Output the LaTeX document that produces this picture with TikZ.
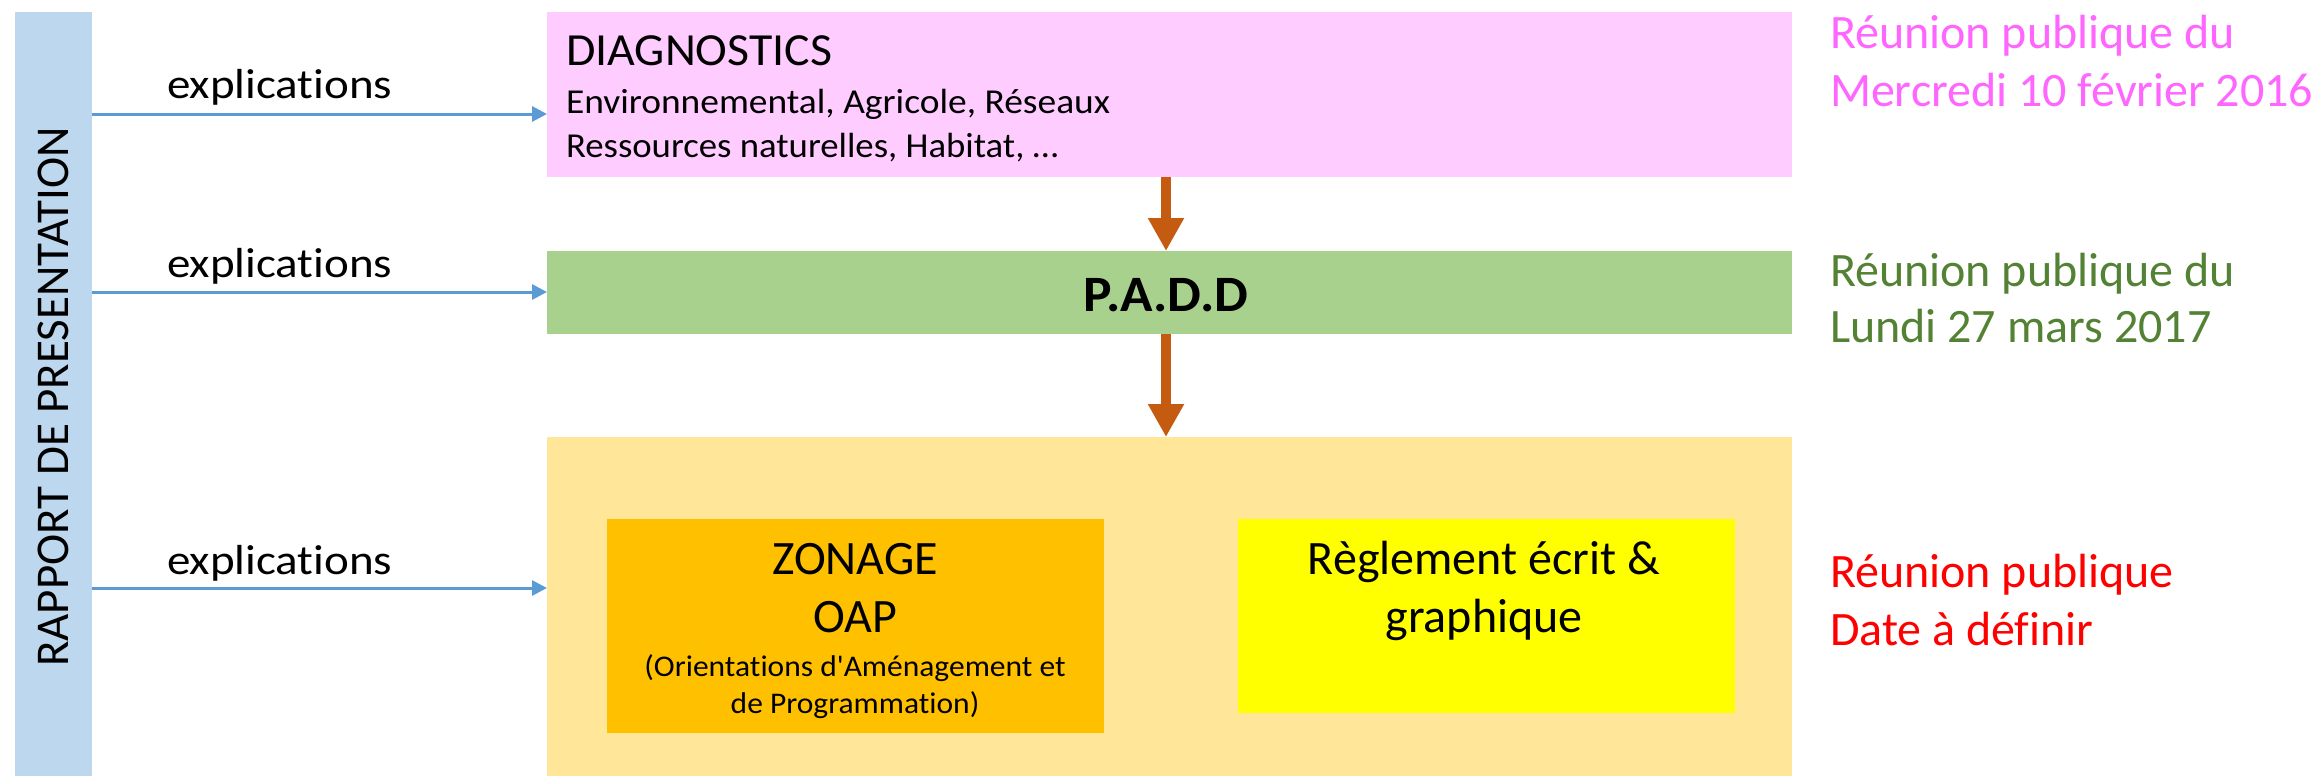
\documentclass[tikz,border=0pt]{standalone}
\usepackage{fontspec}
\setmainfont{Carlito}[Ligatures={NoCommon,TeXOff}]
\usetikzlibrary{arrows.meta}
\definecolor{barblue}{HTML}{BDD7EE}
\definecolor{pinkbox}{HTML}{FFCCFF}
\definecolor{greenbox}{HTML}{A9D18E}
\definecolor{paleyellow}{HTML}{FFE699}
\definecolor{orangebox}{HTML}{FFC000}
\definecolor{brightyellow}{HTML}{FFFF00}
\definecolor{arrowblue}{HTML}{5B9BD5}
\definecolor{arroworange}{HTML}{C55A11}
\definecolor{txtpink}{HTML}{FF66FF}
\definecolor{txtgreen}{HTML}{548235}
\definecolor{txtred}{HTML}{FF0000}
\newcommand{\fsz}[1]{\fontsize{#1}{#1}\selectfont}
\newcommand{\sx}[2]{\scalebox{#1}[1]{#2}}
\begin{document}
\begin{tikzpicture}[x=0.5pt,y=-0.5pt,
  panel/.style={draw=none,inner sep=0pt,outer sep=0pt},
  lbl/.style={inner sep=0pt,outer sep=0pt},
  bluearrow/.style={draw=arrowblue,line width=1.5pt,-{Triangle[length=7.5pt,width=7.5pt]}},
  bigarrow/.style={draw=arroworange,line width=5pt,-{Triangle[length=16.5pt,width=17pt]}},
  expl/.style={lbl,anchor=base west,font=\fsz{21}},
  meet/.style={lbl,anchor=base west,font=\fsz{24}},
  inner/.style={lbl,anchor=base,font=\fsz{24}}]
\fill[white] (0,0) rectangle (2318,776);
\useasboundingbox (0,0) rectangle (2318,776);
% left bar
\node[panel,fill=barblue,minimum width=38.5pt,minimum height=382pt] (bar) at (53.5,394) {};
\node[lbl,rotate=90,font=\fsz{23.5}] (bart) at (53.5,397) {RAPPORT DE PRESENTATION};
% boxes
\node[panel,fill=pinkbox,minimum width=622.5pt,minimum height=82.5pt] (diag) at (1169.5,94.5) {};
\node[panel,fill=greenbox,minimum width=622.5pt,minimum height=41.5pt] (padd) at (1169.5,292.5) {};
\node[panel,fill=paleyellow,minimum width=622.5pt,minimum height=169.5pt] (big) at (1169.5,606.5) {};
\node[panel,fill=orangebox,minimum width=248.5pt,minimum height=107pt] (zon) at (855.5,626) {};
\node[panel,fill=brightyellow,minimum width=248.5pt,minimum height=97pt] (reg) at (1486.5,616) {};
% texts in boxes
\node[lbl,anchor=base west,font=\fsz{23}] (d1) at (566,65) {\sx{1.04}{DIAGNOSTICS}};
\node[lbl,anchor=base west,font=\fsz{17.5}] (d2) at (566,113) {\sx{1.07}{Environnemental, Agricole, Réseaux}};
\node[lbl,anchor=base west,font=\fsz{17.5}] (d3) at (566,157) {\sx{1.05}{Ressources naturelles, Habitat, …}};
\node[lbl,anchor=base,font=\fsz{25.5}\bfseries] (pt) at (1166,311) {\sx{1.05}{P.A.D.D}};
\node[inner] (z1) at (855,574) {ZONAGE};
\node[inner] (z2) at (855,632) {OAP};
\node[lbl,anchor=base,font=\fsz{15}] (z3) at (855,676) {\sx{1.05}{(Orientations d'Aménagement et}};
\node[lbl,anchor=base,font=\fsz{15}] (z4) at (855,713) {\sx{1.05}{de Programmation)}};
\node[inner] (r1) at (1484,574) {Règlement écrit \&};
\node[inner] (r2) at (1484,632) {graphique};
% explications
\node[expl] (e1) at (167,98) {\sx{1.12}{explications}};
\node[expl] (e2) at (167,277) {\sx{1.12}{explications}};
\node[expl] (e3) at (167,574) {\sx{1.12}{explications}};
% blue arrows
\coordinate (b1) at (92,114);
\coordinate (b2) at (92,292);
\coordinate (b3) at (92,588);
\draw[bluearrow] (b1) -- (b1 -| diag.west);
\draw[bluearrow] (b2) -- (b2 -| padd.west);
\draw[bluearrow] (b3) -- (b3 -| big.west);
% orange arrows
\draw[bigarrow] (diag.south -| pt.base) -- (padd.north -| pt.base);
\draw[bigarrow] (padd.south -| pt.base) -- (big.north -| pt.base);
% meetings
\node[meet,text=txtpink] (m1) at (1830,48) {Réunion publique du};
\node[meet,text=txtpink] (m2) at (1830,106) {Mercredi 10 février 2016};
\node[meet,text=txtgreen] (m3) at (1830,286) {Réunion publique du};
\node[meet,text=txtgreen] (m4) at (1830,342) {Lundi 27 mars 2017};
\node[meet,text=txtred] (m5) at (1830,587) {Réunion publique};
\node[meet,text=txtred] (m6) at (1830,645) {Date à définir};
\end{tikzpicture}
\end{document}
